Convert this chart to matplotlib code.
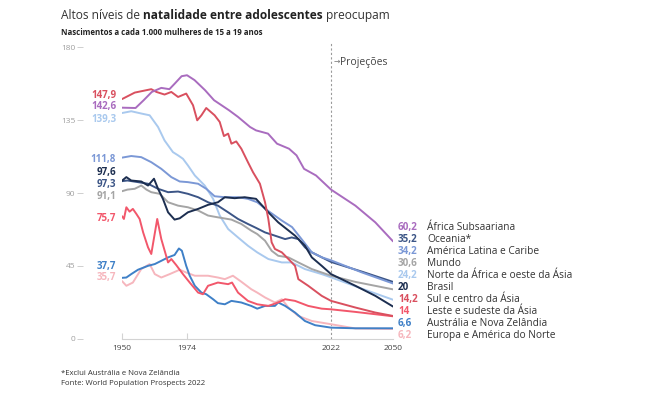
import numpy as np
import matplotlib.pyplot as plt
from matplotlib import transforms

plt.rcParams['font.family'] = ['Open Sans', 'DejaVu Sans']

# eixo x: marcas e posição (px) de cada uma -- o original não é linear
tick_years = [1950, 1974, 2022, 2050]
tick_pos = [0, 65, 209, 271]

africa_years = [1950, 1955, 1958, 1961, 1964.5, 1967.5, 1969.5, 1972, 1974, 1976.5, 1980, 1983, 1988, 1991,
                1995, 1997, 2001, 2004, 2008, 2010.5, 2013, 2017, 2022, 2033, 2042, 2050]
africa_vals = [142.6, 142.4, 147.2, 152.3, 154.8, 154.0, 157.5, 162.0, 162.6, 159.6, 153.4, 147.2, 141.0, 136.9,
               130.7, 128.6, 126.6, 120.4, 117.3, 113.2, 104.9, 100.8, 92.1, 82.2, 71.9, 60.2]

oceania_years = [1950, 1952, 1955.9, 1959.6, 1963.3, 1967, 1970.7, 1974.3, 1977.7, 1981, 1984.3, 1987.7, 1991,
                 1994.3, 1997, 2000, 2003.3, 2006.7, 2008.9, 2011.1, 2013.3, 2015.6, 2022, 2036, 2050]
oceania_vals = [97.3, 97.7, 96.7, 95.7, 92.6, 90.5, 90.9, 89.5, 87.4, 84.3, 82.2, 78.1, 74.0,
                70.9, 68.5, 65.7, 63.7, 61.6, 62.6, 61.6, 56.5, 53.4, 47.5, 41.5, 35.2]

latam_years = [1950, 1953.4, 1957.1, 1960.8, 1964.5, 1968.2, 1971.3, 1974.3, 1977.7, 1980.4, 1983.2, 1986.6,
               1991, 1994.3, 1997.4, 2001, 2005.6, 2009, 2012, 2015.6, 2019, 2022, 2036, 2050]
latam_vals = [111.8, 112.8, 112.1, 109.0, 104.9, 99.8, 97.1, 96.7, 95.7, 92.6, 88.0, 87.4,
              87.4, 86.4, 84.3, 79.0, 73.0, 69.0, 62.0, 53.4, 50.3, 48.5, 41.0, 34.2]

mundo_years = [1950, 1952, 1954.7, 1957.1, 1959, 1960.8, 1963.9, 1967, 1970.7, 1974.3, 1977.7, 1981, 1984.3,
               1988.8, 1992.1, 1995.4, 1997.4, 2000, 2002.2, 2004.4, 2007.8, 2011.1, 2015.6, 2022, 2033, 2050]
mundo_vals = [91.1, 92.1, 92.6, 94.6, 92.1, 90.5, 89.5, 84.3, 82.2, 81.2, 79.2, 76.1, 75.0,
              73.6, 70.9, 66.8, 64.7, 60.6, 54.4, 51.3, 50.3, 47.2, 43.1, 39.0, 35.2, 30.6]

nafrica_years = [1950, 1953.4, 1957.1, 1960.2, 1963.3, 1965.7, 1968.8, 1970.7, 1972.5, 1974.3, 1976.6, 1979.9,
                 1982.7, 1984.9, 1987.7, 1991, 1994.3, 1997.4, 2001.1, 2005.6, 2008.9, 2013.3, 2018.9, 2022,
                 2036, 2050]
nafrica_vals = [139.3, 140.4, 139.0, 137.9, 130.7, 122.4, 115.2, 113.2, 111.1, 107.0, 100.8, 94.6,
                86.4, 76.1, 67.8, 62.6, 57.5, 53.4, 49.3, 47.2, 47.2, 43.1, 40.0, 38.0,
                31.0, 24.2]

brasil_years = [1950, 1951.6, 1953.4, 1957.1, 1959.6, 1961.8, 1963.3, 1965.1, 1967, 1969.4, 1971.3, 1974.3,
                1977.7, 1981, 1984.3, 1986.6, 1989.9, 1993.2, 1997, 2001.1, 2004.4, 2010, 2013.3, 2015.6,
                2018.9, 2022, 2033, 2042, 2050]
brasil_vals = [97.6, 99.8, 97.7, 97.1, 94.6, 98.8, 92.6, 86.4, 78.1, 73.6, 74.4, 78.1,
               80.2, 82.7, 84.3, 87.4, 86.8, 87.4, 86.4, 78.1, 71.9, 63.7, 57.5, 50.3,
               45.1, 40.0, 32.8, 26.6, 20.0]

sul_years = [1950, 1954.7, 1960.8, 1962.7, 1965.7, 1968.2, 1970.7, 1973.7, 1976, 1977.4, 1978.8, 1980.4,
             1983.2, 1984.9, 1986.3, 1987.7, 1988.8, 1990.4, 1992.1, 1994.3, 1996, 1998.3, 2000, 2001.1,
             2002.2, 2003.3, 2005.6, 2007.8, 2010, 2011.1, 2014.4, 2018.9, 2022, 2033, 2042, 2050]
sul_vals = [147.9, 151.9, 154.0, 152.3, 150.7, 152.3, 149.2, 151.3, 144.1, 134.8, 137.9, 142.4,
            137.9, 133.8, 125.1, 126.6, 120.4, 121.8, 117.3, 109.0, 102.8, 95.7, 84.3, 74.0,
            59.6, 55.5, 53.4, 49.3, 45.1, 36.9, 32.8, 26.6, 23.5, 19.4, 16.3, 14.2]

leste_years = [1950, 1950.7, 1951.6, 1952.8, 1954, 1955.3, 1956.5, 1957.8, 1959.6, 1960.8, 1963, 1964.5,
               1967, 1968.2, 1970, 1972.5, 1974.9, 1977.7, 1979.3, 1981, 1984.3, 1987.7, 1989, 1991,
               1994.3, 1997.4, 2001.1, 2004.4, 2006.7, 2010, 2014.4, 2018.9, 2022, 2033, 2050]
leste_vals = [75.7, 74.0, 81.2, 78.5, 80.2, 77.1, 74.0, 65.7, 56.5, 52.4, 74.0, 61.6,
              47.2, 49.3, 45.6, 40.0, 34.8, 28.6, 27.6, 32.8, 34.8, 33.8, 34.8, 28.6,
              23.5, 21.4, 20.4, 22.5, 24.5, 23.5, 20.4, 18.7, 18.3, 16.7, 14.0]

austr_years = [1950, 1951.6, 1953.4, 1955.9, 1959.6, 1962.1, 1964.5, 1967, 1969.4, 1971, 1972.1, 1973.7,
               1974.9, 1976.6, 1978.8, 1980.4, 1982.7, 1984.3, 1986.6, 1988.8, 1992.1, 1995.4, 1997.4, 2000,
               2003.3, 2004.4, 2006.7, 2010, 2013.3, 2016.7, 2022, 2033, 2050]
austr_vals = [37.7, 37.9, 40.0, 42.7, 45.1, 46.2, 48.2, 50.3, 51.8, 55.8, 54.4, 45.1,
              39.0, 32.8, 28.6, 27.6, 24.5, 22.1, 21.4, 23.5, 22.5, 20.4, 18.7, 20.4,
              20.4, 22.5, 20.4, 16.3, 11.1, 8.5, 7.0, 6.6, 6.6]

europa_years = [1950, 1951.6, 1954, 1957.1, 1960.2, 1962.1, 1964.5, 1967.6, 1971.3, 1973.7, 1976.6, 1981,
                1984.3, 1986.6, 1989.3, 1992.1, 1995.4, 1997.4, 2000, 2003.3, 2005.6, 2007.8, 2011.1, 2015.6,
                2022, 2033, 2050]
europa_vals = [35.7, 32.8, 34.8, 43.1, 46.2, 40.0, 37.9, 40.0, 42.7, 41.0, 39.0, 39.0,
               37.9, 36.9, 39.0, 35.3, 30.7, 28.6, 25.6, 22.5, 24.5, 19.4, 14.2, 11.1,
               9.1, 6.5, 6.2]

names = ['África Subsaariana', 'Oceania*', 'América Latina e Caribe', 'Mundo',
         'Norte da África e oeste da Ásia', 'Brasil', 'Sul e centro da Ásia',
         'Leste e sudeste da Ásia', 'Austrália e Nova Zelândia', 'Europa e América do Norte']
all_years = [africa_years, oceania_years, latam_years, mundo_years, nafrica_years,
             brasil_years, sul_years, leste_years, austr_years, europa_years]
all_vals = [africa_vals, oceania_vals, latam_vals, mundo_vals, nafrica_vals,
            brasil_vals, sul_vals, leste_vals, austr_vals, europa_vals]
colors = ['#a96cbf', '#3c5586', '#7b98d6', '#a5a5a5', '#a9c9ee',
          '#1c2e50', '#d9505f', '#f2576b', '#3f80c7', '#f6b6bd']

# ordem dos rótulos da esquerda (de cima para baixo) e sua altura
left_order = [6, 0, 4, 2, 5, 1, 3, 7, 8, 9]
left_y = [150.0, 143.3, 135.6, 110.9, 102.5, 95.2, 87.9, 74.3, 44.7, 37.7]


def fmt(v):
    s = f'{v:.1f}'.replace('.', ',')
    return s[:-2] if s.endswith(',0') else s


fig = plt.figure(figsize=(6.61, 3.97), dpi=100)
ax = fig.add_axes([0.1846, 0.1461, 0.41, 0.7355])


def fwd(x):
    return np.interp(x, tick_years, tick_pos)


def inv(p):
    return np.interp(p, tick_pos, tick_years)


ax.set_xscale('function', functions=(fwd, inv))
ax.set_xlim(1950, 2050)
ax.set_ylim(0, 180)

for i in [9, 8, 7, 4, 3, 1, 2, 5, 6, 0]:
    ax.plot(all_years[i], all_vals[i], color=colors[i], lw=1.4,
            solid_joinstyle='round', solid_capstyle='round', zorder=3)

# projeções
ax.plot([2022, 2022], [0, 183], color='#9a9a9a', lw=0.8, ls=(0, (2, 2)), clip_on=False, zorder=2)
ax.annotate('→', xy=(2022, 170.6), xytext=(1.5, 0), textcoords='offset points',
            fontsize=5.5, color='#777', va='center', ha='left', annotation_clip=False)
ax.annotate('Projeções', xy=(2022, 170.6), xytext=(6.5, 0), textcoords='offset points',
            fontsize=7.5, color='#444', va='center', ha='left', annotation_clip=False)

# eixos
for s in ['top', 'right']:
    ax.spines[s].set_visible(False)
ax.spines['left'].set_position(('outward', 28))
ax.spines['left'].set_visible(False)
ax.spines['bottom'].set_color('#d3d3d3')
ax.spines['bottom'].set_linewidth(0.8)
ax.set_yticks([0, 45, 90, 135, 180])
ax.tick_params(axis='y', length=4.3, width=0.6, color='#c8c8c8', labelcolor='#a0a0a0',
               labelsize=6, pad=1.4)
ax.set_xticks(tick_years)
ax.set_xticklabels([str(y) for y in tick_years])
ax.xaxis.set_minor_locator(plt.NullLocator())
ax.tick_params(axis='x', direction='in', length=4, width=0.8, color='#d3d3d3',
               labelcolor='#444', labelsize=6, pad=4)
for t in ax.xaxis.get_major_ticks()[2:]:
    t.tick1line.set_visible(False)

tr = transforms.blended_transform_factory(ax.transAxes, ax.transData)

# rótulos da esquerda
for i, y in zip(left_order, left_y):
    ax.text(-0.022, y, fmt(all_vals[i][0]), transform=tr, ha='right', va='center',
            fontsize=7, fontweight='bold', color=colors[i])

# rótulos da direita
for i in range(len(names)):
    y = 68.6 - 7.35 * i
    ax.text(1.0185, y, fmt(all_vals[i][-1]), transform=tr, ha='left', va='center',
            fontsize=7.1, fontweight='bold', color=colors[i])
    ax.text(1.1255, y, names[i], transform=tr, ha='left', va='center', fontsize=7.3, color='#333')

# título
t1 = fig.text(0.0923, 0.962, 'Altos níveis de', fontsize=8.6, color='#333', va='center')
t2 = ax.annotate('natalidade entre adolescentes', xy=(1, 0.5), xycoords=t1, xytext=(2.3, 0),
                 textcoords='offset points', va='center', fontsize=8.6, fontweight='bold',
                 color='#222', annotation_clip=False)
ax.annotate('preocupam', xy=(1, 0.5), xycoords=t2, xytext=(2.3, 0), textcoords='offset points',
            va='center', fontsize=8.6, color='#333', annotation_clip=False)
fig.text(0.0923, 0.919, 'Nascimentos a cada 1.000 mulheres de 15 a 19 anos', fontsize=5.7,
         fontweight='bold', color='#222', va='center')

fig.text(0.0923, 0.0597, '*Exclui Austrália e Nova Zelândia', fontsize=5.6, color='#333', va='center')
fig.text(0.0923, 0.0335, 'Fonte: World Population Prospects 2022', fontsize=5.6, color='#333', va='center')

fig.savefig('out.png', dpi=100)
